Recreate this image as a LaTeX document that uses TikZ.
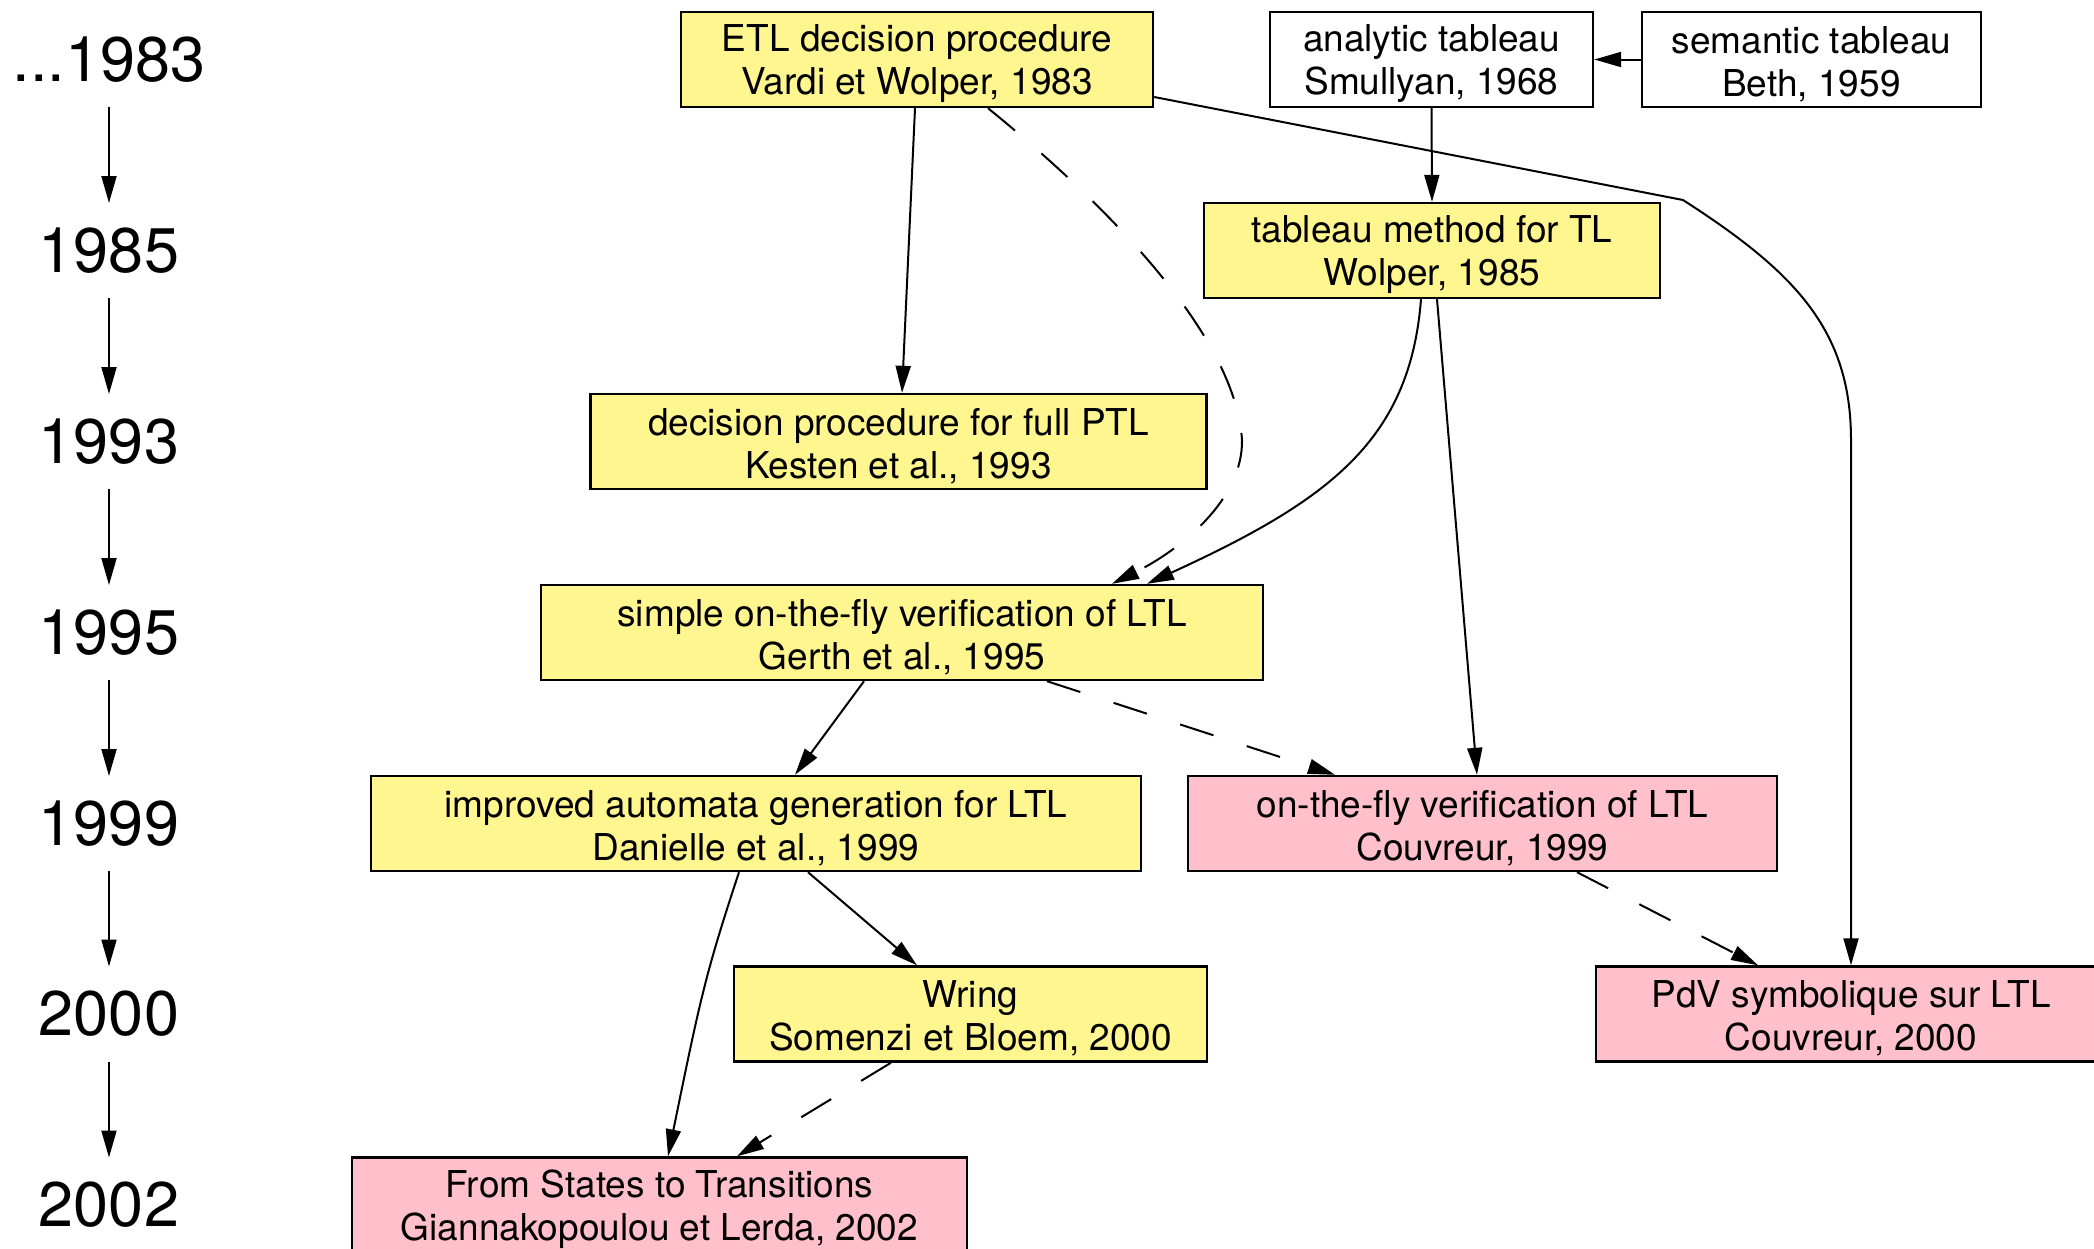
\documentclass[tikz,border=0pt]{standalone}
\usepackage{fontspec}
\setmainfont{TeX Gyre Heros}
\usetikzlibrary{arrows.meta,calc}

\definecolor{boxyellow}{HTML}{FFF68F}
\definecolor{boxpink}{HTML}{FFC0CB}

% taller first line, so that the two text lines sit a little lower in their box
\newcommand\worklift{\rule{0pt}{18pt}}

\begin{document}
\begin{tikzpicture}[
  x=0.5pt, y=-0.5pt,
  work/.style={draw=black, line width=1.2pt, rectangle, inner sep=0pt,
    minimum height=47.5pt, align=center,
    font=\fontsize{18.5pt}{21.5pt}\selectfont},
  older/.style={work, fill=boxyellow},
  newer/.style={work, fill=boxpink},
  plain/.style={work, fill=white},
  year/.style={inner sep=0pt, minimum height=47.5pt,
    font=\fontsize{31.5pt}{38pt}\selectfont},
  link/.style={line width=1pt, -{Triangle[length=13.5pt,width=7.5pt]}},
  weak/.style={link, dash pattern=on 17.5pt off 17.5pt},
]
\useasboundingbox (0,0) rectangle (2094,1248);
\clip (0,0) rectangle (2094,1248);

% time line
\node[year] (y83) at (109,59.5)  {...1983};
\node[year] (y85) at (109,250.5) {1985};
\node[year] (y93) at (109,441.5) {1993};
\node[year] (y95) at (109,632.5) {1995};
\node[year] (y99) at (109,823.5) {1999};
\node[year] (y00) at (109,1014)  {2000};
\node[year] (y02) at (109,1205)  {2002};
\foreach \a/\b in {y83/y85, y85/y93, y93/y95, y95/y99, y99/y00, y00/y02}
  \draw[link] ($(\a.center)+(0,47.5)$) -- ($(\b.center)+(0,-47.5)$);

% works
\node[older, minimum width=236pt]   (etl)  at (917,59.5)    {\worklift ETL decision procedure\\Vardi et Wolper, 1983};
\node[plain, minimum width=161.5pt] (ana)  at (1431.5,59.5) {\worklift analytic tableau\\Smullyan, 1968};
\node[plain, minimum width=169.5pt] (sem)  at (1811.5,59.5) {\worklift semantic tableau\\Beth, 1959};
\node[older, minimum width=228pt]   (tab)  at (1432,250.5)  {\worklift tableau method for TL\\Wolper, 1985};
\node[older, minimum width=308pt]   (dec)  at (898.5,441.5) {\worklift decision procedure for full PTL\\Kesten et al., 1993};
\node[older, minimum width=361pt]   (ger)  at (902,632.5)   {\worklift simple on-the-fly verification of LTL\\Gerth et al., 1995};
\node[older, minimum width=385pt]   (dan)  at (756,823.5)   {\worklift improved automata generation for LTL\\Danielle et al., 1999};
\node[newer, minimum width=294.5pt] (cv99) at (1482.5,823.5){\worklift on-the-fly verification of LTL\\Couvreur, 1999};
\node[older, minimum width=236.5pt] (wri)  at (970.5,1014)  {\worklift Wring\\Somenzi et Bloem, 2000};
\node[newer, minimum width=255pt]   (pdv)  at (1851,1014)   {\worklift PdV symbolique sur LTL\\Couvreur, 2000};
\node[newer, minimum width=307.5pt] (fst)  at (659.5,1205)  {\worklift From States to Transitions\\Giannakopoulou et Lerda, 2002};

% influences
\draw[link] (sem.west) -- (ana.east);
\draw[link] (ana.south) -- (tab.north);
\draw[link] ($(etl.south)+(-2,0)$) -- ($(dec.north)+(3.5,0)$);
\draw[weak] ($(etl.south)+(71,0)$) .. controls (1095,195) and (1235,330) .. (1242,440)
  .. controls (1243,500) and (1180,550) .. ($(ger.north)+(210,0)$);
\draw[link] ($(etl.east)+(0,37.5)$) -- (1683,200) .. controls (1795,272) and (1851,330) .. (1851,440)
  -- (pdv.north);
\draw[link] ($(tab.south)+(-11,0)$) .. controls (1410,440) and (1330,500) .. ($(ger.north)+(245,0)$);
\draw[link] ($(tab.south)+(5,0)$) -- ($(cv99.north)+(-5.5,0)$);
\draw[link] ($(ger.south)+(-38,0)$) -- ($(dan.north)+(39,0)$);
\draw[weak] ($(ger.south)+(145,0)$) -- ($(cv99.north)+(-147.5,0)$);
\draw[link] ($(dan.south)+(52,0)$) -- ($(wri.north)+(-53.5,0)$);
\draw[link] ($(dan.south)+(-17,0)$) .. controls (705,975) and (700,1000) .. ($(fst.north)+(8.5,0)$);
\draw[weak] ($(wri.south)+(-79.5,0)$) -- ($(fst.north)+(77.5,0)$);
\draw[weak] ($(cv99.south)+(94.5,0)$) -- ($(pdv.north)+(-93,0)$);
\end{tikzpicture}
\end{document}
